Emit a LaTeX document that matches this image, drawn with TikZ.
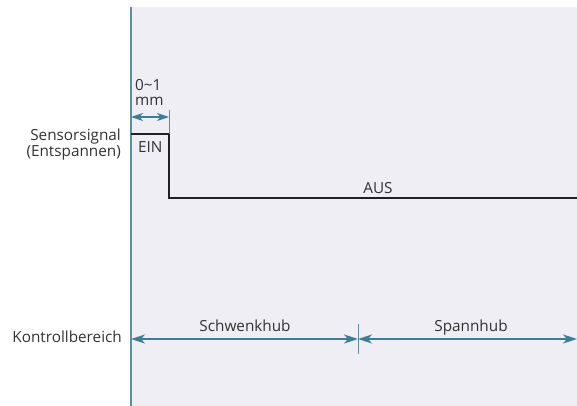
\documentclass[tikz,border=0pt]{standalone}
\usepackage{fontspec}
\setmainfont{Open Sans}
\usetikzlibrary{arrows.meta}
\definecolor{bgfill}{HTML}{EEEEF4}
\definecolor{axisline}{HTML}{5A90A6}
\definecolor{dimline}{HTML}{3C7E96}
\definecolor{textgray}{HTML}{333333}
\definecolor{signalline}{HTML}{231F20}

\begin{document}
\begin{tikzpicture}[x=1pt,y=-1pt]
        \tikzset{label text/.style={text=textgray,font=\fontsize{15.3}{17}\selectfont,inner sep=0pt},
            dim arrow/.style={draw=dimline,line width=1.6pt,{Stealth[length=14pt,width=9pt,inset=4pt]}-{Stealth[length=14pt,width=9pt,inset=4pt]}},
            marker/.style={draw=axisline,line width=0.9pt},
            signal/.style={draw=signalline,line width=2pt}}
        \useasboundingbox (0,0) rectangle (577,406);
        \fill[white] (0,0) rectangle (577,406);
        \fill[bgfill] (131,7) rectangle (577,406);
        % axis
        \coordinate (axtop) at (131,7);
        \coordinate (axbot) at (131,406);
        \draw[marker,line width=1.1pt] (axtop) -- (axbot);
        % sensor signal
        \coordinate (einL) at (131,134);
        \coordinate (einR) at (169,134);
        \coordinate (ausL) at (169,198);
        \coordinate (ausR) at (577,198);
        \draw[signal] (einL) -- (einR) -- (ausL) -- (ausR);
        \coordinate (tickA) at (169,110);
        \draw[marker] (tickA) -- (einR);
        \coordinate (gapL) at (131,117);
        \coordinate (gapR) at (169,117);
        \draw[dim arrow,line width=1.4pt,{Stealth[length=12pt,width=8pt,inset=3.5pt]}-{Stealth[length=12pt,width=8pt,inset=3.5pt]}] (gapL) -- (gapR);
        \node[label text,anchor=base west,align=left,font=\fontsize{15.3}{15}\selectfont] (gap) at (135,106) {0\textasciitilde1\\mm};
        \node[label text,anchor=base east,align=right] (sensor) at (121,157) {Sensorsignal\\(Entspannen)};
        \node[label text,anchor=base west] (ein) at (138,153) {EIN};
        \node[label text,anchor=base] (aus) at (378,193) {AUS};
        % control range
        \coordinate (ctrlL) at (131,339);
        \coordinate (ctrlM) at (358,339);
        \coordinate (ctrlR) at (577,339);
        \coordinate (splitT) at (358,324);
        \coordinate (splitB) at (358,354);
        \draw[marker] (splitT) -- (splitB);
        \draw[dim arrow] (ctrlL) -- (ctrlM);
        \draw[dim arrow] (ctrlM) -- (ctrlR);
        \node[label text,anchor=base] (schwenk) at (245,331) {Schwenkhub};
        \node[label text,anchor=base] (spann) at (471,331) {Spannhub};
        \node[label text,anchor=base east] (kontroll) at (122,342) {Kontrollbereich};
    \end{tikzpicture}
\end{document}
